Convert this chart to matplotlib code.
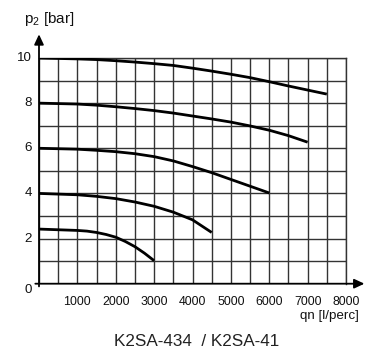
import matplotlib
matplotlib.use("Agg")
import matplotlib.pyplot as plt
from matplotlib.ticker import MultipleLocator

# ---- data ----
c10_x = [0, 1000, 1500, 2000, 2500, 3000, 3500, 4000, 4500, 5000, 5500, 6000, 6500, 7000, 7500]
c10_y = [10.0, 9.96, 9.93, 9.88, 9.82, 9.75, 9.67, 9.55, 9.42, 9.28, 9.13, 8.95, 8.76, 8.58, 8.40]

c8_x = [0, 1000, 1500, 2000, 2500, 3000, 3500, 4000, 4500, 5000, 5500, 6000, 6500, 7000]
c8_y = [8.0, 7.96, 7.91, 7.84, 7.76, 7.67, 7.56, 7.43, 7.30, 7.16, 6.99, 6.80, 6.56, 6.27]

c6_x = [0, 1000, 1500, 2000, 2500, 3000, 3500, 4000, 4500, 5000, 5500, 6000]
c6_y = [6.0, 5.96, 5.91, 5.85, 5.76, 5.63, 5.44, 5.19, 4.92, 4.62, 4.32, 4.02]

c4_x = [0, 1000, 1500, 2000, 2500, 3000, 3500, 4000, 4500]
c4_y = [4.0, 3.94, 3.87, 3.77, 3.62, 3.43, 3.17, 2.83, 2.27]

c2_x = [0, 1000, 1250, 1500, 1750, 2000, 2250, 2500, 2750, 3000]
c2_y = [2.42, 2.36, 2.33, 2.27, 2.18, 2.06, 1.87, 1.64, 1.35, 1.02]

x_ticks = [1000, 2000, 3000, 4000, 5000, 6000, 7000, 8000]
x_tick_labels = ["1000", "2000", "3000", "4000", "5000", "6000", "7000", "8000"]
y_ticks = [2, 4, 6, 8, 10]
y_tick_labels = ["2", "4", "6", "8", "10"]

ylabel = "p$_2$ [bar]"
xlabel = "qn [l/perc]"
caption = "K2SA-434  / K2SA-41"

plt.rcParams["font.family"] = ["Liberation Sans", "DejaVu Sans"]
plt.rcParams["mathtext.default"] = "regular"

# ---- figure ----
W, H = 372, 351
fig = plt.figure(figsize=(W / 100, H / 100), dpi=100)
left, right, top, bottom = 39, 346, 58, 283.7
ax = fig.add_axes([left / W, 1 - bottom / H, (right - left) / W, (bottom - top) / H])

ax.set_xlim(0, 8000)
ax.set_ylim(0, 10)
ax.xaxis.set_major_locator(MultipleLocator(500))
ax.yaxis.set_major_locator(MultipleLocator(1))
ax.grid(True, color="#333333", linewidth=1.0)
ax.set_axisbelow(True)
ax.set_xticklabels([])
ax.set_yticklabels([])
ax.tick_params(length=0)

for sp in ["top", "right"]:
    ax.spines[sp].set_color("#333333")
    ax.spines[sp].set_linewidth(1.0)
for sp in ["left", "bottom"]:
    ax.spines[sp].set_visible(False)

for xs, ys in [(c10_x, c10_y), (c8_x, c8_y), (c6_x, c6_y), (c4_x, c4_y), (c2_x, c2_y)]:
    ax.plot(xs, ys, color="black", linewidth=2.0, solid_capstyle="butt",
            solid_joinstyle="round", zorder=3)

# axes with arrows
ax.annotate("", xy=(0, 1.105), xytext=(0, -0.012), xycoords="axes fraction",
            arrowprops=dict(arrowstyle="-|>,head_length=0.6,head_width=0.28", color="black",
                            lw=1.3, shrinkA=0, shrinkB=0), annotation_clip=False)
ax.annotate("", xy=(1.06, 0), xytext=(-0.012, 0), xycoords="axes fraction",
            arrowprops=dict(arrowstyle="-|>,head_length=0.6,head_width=0.28", color="black",
                            lw=1.3, shrinkA=0, shrinkB=0), annotation_clip=False)

# tick labels
for xv, lab in zip(x_ticks, x_tick_labels):
    ax.text(xv, -0.8, lab, ha="center", va="center", fontsize=8.9,
            color="#111111", clip_on=False)
for yv, lab in zip(y_ticks, y_tick_labels):
    ax.text(-180, yv, lab, ha="right", va="center", fontsize=9.6,
            color="#111111", clip_on=False)
ax.text(-180, -0.28, "0", ha="right", va="center", fontsize=9.6,
        color="#111111", clip_on=False)

fig.text(24 / W, 1 - 19 / H, ylabel, ha="left", va="center", fontsize=11,
         color="#111111")
fig.text(359 / W, 1 - 316 / H, xlabel, ha="right", va="center", fontsize=9.6,
         color="#111111")
fig.text(197 / W, 1 - 342 / H, caption, ha="center", va="center", fontsize=12.3,
         color="#222222")

fig.savefig("out.png", dpi=100)
